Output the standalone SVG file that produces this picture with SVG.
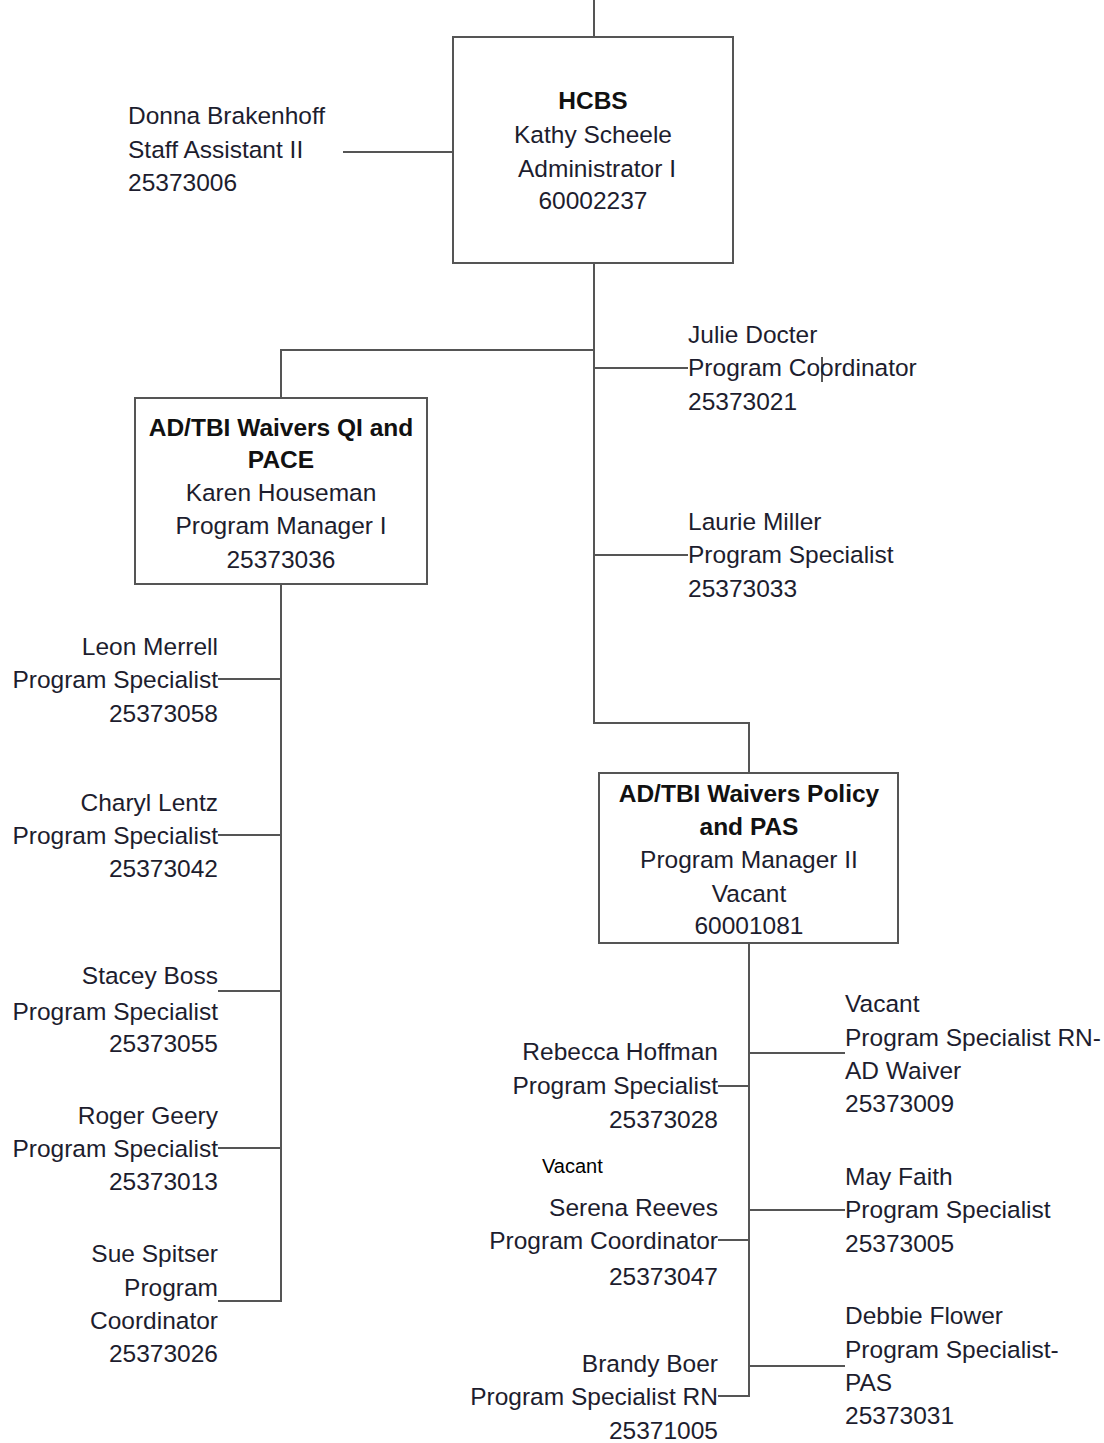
<svg xmlns="http://www.w3.org/2000/svg" width="1104" height="1443" viewBox="0 0 1104 1443">
<style>
.t{font-family:"Liberation Sans",Arial,sans-serif;font-size:24.5px;fill:#1d1d2e}
.b{font-weight:bold;fill:#111}
.m{text-anchor:middle}
.e{text-anchor:end}
.s{font-family:"Liberation Sans",Arial,sans-serif;font-size:20px;fill:#000}
.box{fill:#fff;stroke:#555;stroke-width:2}
.ln{fill:none;stroke:#555;stroke-width:2}
</style>
<rect width="1104" height="1443" fill="#fff"/>
<g id="connectors">
<path class="ln" d="M594 0V37"/>
<path class="ln" d="M343 152H453"/>
<path class="ln" d="M594 263V723H749V773"/>
<path class="ln" d="M594 350H281V398"/>
<path class="ln" d="M594 368H688"/>
<path class="ln" d="M594 555H688"/>
<path class="ln" d="M822 357V382"/>
<path class="ln" d="M281 584V1301H218"/>
<path class="ln" d="M218 679H281"/>
<path class="ln" d="M218 835H281"/>
<path class="ln" d="M218 991H281"/>
<path class="ln" d="M218 1148H281"/>
<path class="ln" d="M749 943V1396H718"/>
<path class="ln" d="M749 1053H845"/>
<path class="ln" d="M718 1086H749"/>
<path class="ln" d="M749 1210H845"/>
<path class="ln" d="M718 1240H749"/>
<path class="ln" d="M749 1366H845"/>
</g>
<g id="hcbs">
<rect class="box" x="453" y="37" width="280" height="226"/>
<text class="t b m" x="593" y="109">HCBS</text>
<text class="t m" x="593" y="143">Kathy Scheele</text>
<text class="t m" x="597" y="177">Administrator I</text>
<text class="t m" x="593" y="209">60002237</text>
</g>
<g id="donna">
<text class="t" x="128" y="124">Donna Brakenhoff</text>
<text class="t" x="128" y="158">Staff Assistant II</text>
<text class="t" x="128" y="191">25373006</text>
</g>
<g id="julie">
<text class="t" x="688" y="343">Julie Docter</text>
<text class="t" x="688" y="376">Program Coordinator</text>
<text class="t" x="688" y="410">25373021</text>
</g>
<g id="laurie">
<text class="t" x="688" y="530">Laurie Miller</text>
<text class="t" x="688" y="563">Program Specialist</text>
<text class="t" x="688" y="597">25373033</text>
</g>
<g id="qi">
<rect class="box" x="135" y="398" width="292" height="186"/>
<text class="t b m" x="281" y="436">AD/TBI Waivers QI and</text>
<text class="t b m" x="281" y="468">PACE</text>
<text class="t m" x="281" y="501">Karen Houseman</text>
<text class="t m" x="281" y="534">Program Manager I</text>
<text class="t m" x="281" y="568">25373036</text>
</g>
<g id="leon">
<text class="t e" x="218" y="655">Leon Merrell</text>
<text class="t e" x="218" y="688">Program Specialist</text>
<text class="t e" x="218" y="722">25373058</text>
</g>
<g id="charyl">
<text class="t e" x="218" y="811">Charyl Lentz</text>
<text class="t e" x="218" y="844">Program Specialist</text>
<text class="t e" x="218" y="877">25373042</text>
</g>
<g id="stacey">
<text class="t e" x="218" y="984">Stacey Boss</text>
<text class="t e" x="218" y="1020">Program Specialist</text>
<text class="t e" x="218" y="1052">25373055</text>
</g>
<g id="roger">
<text class="t e" x="218" y="1124">Roger Geery</text>
<text class="t e" x="218" y="1157">Program Specialist</text>
<text class="t e" x="218" y="1190">25373013</text>
</g>
<g id="sue">
<text class="t e" x="218" y="1262">Sue Spitser</text>
<text class="t e" x="218" y="1296">Program</text>
<text class="t e" x="218" y="1329">Coordinator</text>
<text class="t e" x="218" y="1362">25373026</text>
</g>
<g id="policy">
<rect class="box" x="599" y="773" width="299" height="170"/>
<text class="t b m" x="749" y="802">AD/TBI Waivers Policy</text>
<text class="t b m" x="749" y="835">and PAS</text>
<text class="t m" x="749" y="868">Program Manager II</text>
<text class="t m" x="749" y="902">Vacant</text>
<text class="t m" x="749" y="934">60001081</text>
</g>
<g id="vacant-rn">
<text class="t" x="845" y="1012">Vacant</text>
<text class="t" x="845" y="1046">Program Specialist RN-</text>
<text class="t" x="845" y="1079">AD Waiver</text>
<text class="t" x="845" y="1112">25373009</text>
</g>
<g id="rebecca">
<text class="t e" x="718" y="1060">Rebecca Hoffman</text>
<text class="t e" x="718" y="1094">Program Specialist</text>
<text class="t e" x="718" y="1128">25373028</text>
</g>
<g id="may">
<text class="t" x="845" y="1185">May Faith</text>
<text class="t" x="845" y="1218">Program Specialist</text>
<text class="t" x="845" y="1252">25373005</text>
</g>
<g id="serena">
<text class="s" x="542" y="1173">Vacant</text>
<text class="t e" x="718" y="1216">Serena Reeves</text>
<text class="t e" x="718" y="1249">Program Coordinator</text>
<text class="t e" x="718" y="1285">25373047</text>
</g>
<g id="debbie">
<text class="t" x="845" y="1324">Debbie Flower</text>
<text class="t" x="845" y="1358">Program Specialist-</text>
<text class="t" x="845" y="1391">PAS</text>
<text class="t" x="845" y="1424">25373031</text>
</g>
<g id="brandy">
<text class="t e" x="718" y="1372">Brandy Boer</text>
<text class="t e" x="718" y="1405">Program Specialist RN</text>
<text class="t e" x="718" y="1439">25371005</text>
</g>
</svg>
